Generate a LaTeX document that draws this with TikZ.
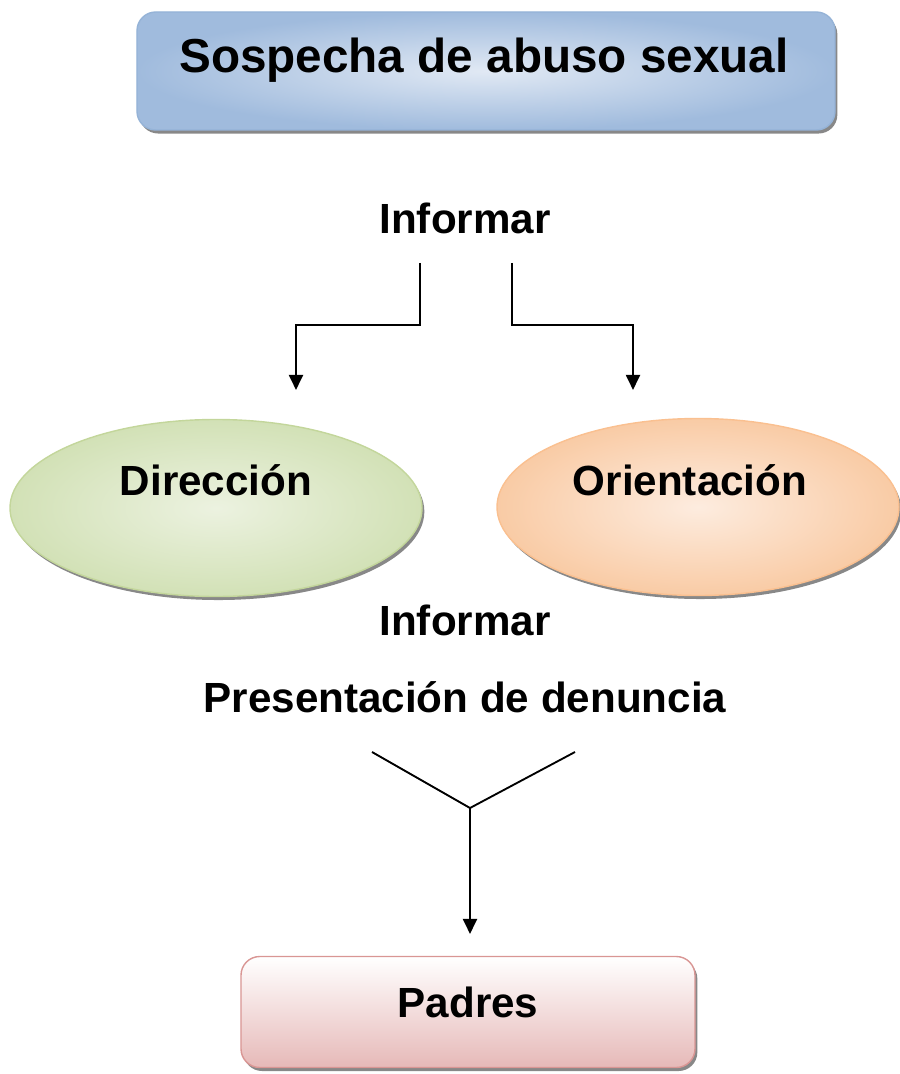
\documentclass[tikz,border=0pt]{standalone}
\usepackage{fontspec}
\setmainfont{Liberation Sans}
\usetikzlibrary{arrows.meta, shapes.geometric, shadows}

\definecolor{azulborde}{RGB}{149,179,215}
\definecolor{azulclaro}{RGB}{225,233,244}
\definecolor{azulosc}{RGB}{160,187,221}
\definecolor{verdeborde}{RGB}{195,214,155}
\definecolor{verdeclaro}{RGB}{236,242,224}
\definecolor{verdeosc}{RGB}{210,225,182}
\definecolor{naranjaborde}{RGB}{250,192,144}
\definecolor{naranjaclaro}{RGB}{253,236,223}
\definecolor{naranjaosc}{RGB}{249,203,165}
\definecolor{rojoborde}{RGB}{217,150,148}
\definecolor{rojoosc}{RGB}{230,185,184}

\tikzset{
  sombra/.style={drop shadow={shadow xshift=2pt, shadow yshift=-3pt,
      fill=black!55, opacity=.85}},
  caja/.style={draw, line width=1.2pt, rounded corners=16pt, inner sep=0pt, sombra},
  elipse/.style={ellipse, draw, line width=1.2pt, inner sep=0pt, sombra},
  texto/.style={font=\fontsize{36}{40}\selectfont\bfseries},
  flecha/.style={line width=2pt, -{Triangle[length=13pt, width=12pt]}},
  linea/.style={line width=1.6pt}
}

\begin{document}
\begin{tikzpicture}[x=0.03cm, y=-0.03cm]
\useasboundingbox (0,0) rectangle (899,1074);
% Top box
\node[caja, draw=azulborde, shading=radial, inner color=azulclaro, outer color=azulosc,
  minimum width=20.94cm, minimum height=3.54cm] (sospecha) at (486,71) {};
\node[font=\fontsize{40.7}{44}\selectfont\bfseries] (titulo) at (484,60) {Sospecha de abuso sexual};
\node[texto] (informar1) at (465,218) {Informar};
% Two branches
\coordinate (izq) at (420,263);
\coordinate (der) at (512,263);
\coordinate (izqfin) at (296,390);
\coordinate (derfin) at (633,390);
\draw[flecha] (izq) -- ++(0,62) -| (izqfin);
\draw[flecha] (der) -- ++(0,62) -| (derfin);
% Ellipses
\node[elipse, draw=verdeborde, shading=radial, inner color=verdeclaro, outer color=verdeosc,
  minimum width=12.36cm, minimum height=5.31cm] (direccion) at (216,508) {};
\node[texto] (txtdireccion) at (216,480) {Dirección};
\node[elipse, draw=naranjaborde, shading=radial, inner color=naranjaclaro, outer color=naranjaosc,
  minimum width=12.06cm, minimum height=5.31cm] (orientacion) at (698,507) {};
\node[texto] (txtorientacion) at (690,480) {Orientación};
\node[texto] (informar2) at (465,620) {Informar};
\node[texto] (denuncia) at (465,697) {Presentación de denuncia};
% Join
\coordinate (y1) at (372,752);
\coordinate (y2) at (575,752);
\coordinate (yc) at (470,808);
\coordinate (ye) at (470,934);
\draw[linea] (y1) -- (yc) -- (y2);
\draw[flecha] (yc) -- (ye);
% Bottom box
\node[caja, draw=rojoborde, top color=white, bottom color=rojoosc,
  minimum width=13.62cm, minimum height=3.33cm] (padres) at (468,1012) {};
\node[texto] (txtpadres) at (468,1002) {Padres};
\end{tikzpicture}
\end{document}
